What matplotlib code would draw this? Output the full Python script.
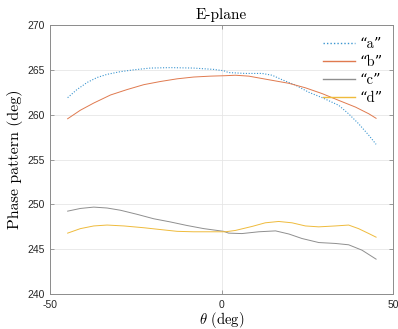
import numpy as np
import matplotlib
matplotlib.use('Agg')
import matplotlib.pyplot as plt

# data
theta_a = [-44.9, -42.2, -39.2, -36.3, -33.4, -29.5, -25.7, -20.8, -15.0, -8.2, -2.3, 0.6,
           2.0, 6.9, 11.8, 14.7, 17.6, 21.5, 25.4, 29.3, 34.1, 37.0, 39.9, 42.9, 45.0]
phase_a = [261.9, 262.8, 263.6, 264.15, 264.5, 264.8, 265.0, 265.2, 265.25, 265.2, 265.05, 264.9,
           264.7, 264.6, 264.6, 264.4, 263.9, 263.3, 262.5, 261.9, 261.05, 260.1, 259.0, 257.7, 256.7]

theta_b = [-44.9, -41.2, -37.3, -32.4, -27.6, -22.7, -17.9, -13.0, -8.2, -3.3, 1.1,
           4.0, 7.9, 13.7, 19.6, 24.4, 29.3, 34.1, 39.0, 42.9, 45.0]
phase_b = [259.55, 260.5, 261.3, 262.2, 262.8, 263.35, 263.7, 264.0, 264.2, 264.3, 264.35,
           264.4, 264.3, 263.9, 263.5, 263.0, 262.35, 261.6, 260.85, 260.1, 259.6]

theta_c = [-44.9, -41.2, -37.3, -33.4, -29.5, -24.7, -19.8, -15.0, -10.1, -5.2, 0.6,
           2.0, 5.9, 10.8, 15.7, 19.6, 23.4, 28.3, 33.1, 37.0, 40.9, 45.0]
phase_c = [249.25, 249.55, 249.7, 249.6, 249.35, 248.9, 248.4, 248.05, 247.65, 247.3, 247.0,
           246.8, 246.75, 246.95, 247.05, 246.7, 246.2, 245.75, 245.65, 245.5, 244.9, 243.9]

theta_d = [-44.9, -41.2, -37.3, -33.4, -28.5, -22.7, -17.9, -13.0, -8.2, -3.3, 1.1,
           4.0, 8.9, 12.7, 16.6, 20.5, 24.4, 28.3, 33.1, 37.0, 39.9, 42.9, 45.0]
phase_d = [246.8, 247.3, 247.6, 247.7, 247.6, 247.4, 247.2, 247.0, 246.95, 246.95, 246.95,
           247.1, 247.55, 247.95, 248.1, 247.95, 247.6, 247.5, 247.6, 247.7, 247.3, 246.75, 246.35]

labels = ['\u201ca\u201d', '\u201cb\u201d', '\u201cc\u201d', '\u201cd\u201d']
colors = ['#3a95d0', '#e07a4f', '#8f8f8f', '#efbb3c']

plt.rcParams['mathtext.fontset'] = 'cm'
plt.rcParams['axes.unicode_minus'] = False
serif = ['cmr10', 'DejaVu Serif']

fig = plt.figure(figsize=(3.98, 3.29), dpi=100)
ax = fig.add_axes([0.126, 0.106, 0.862, 0.818])

ax.plot(theta_a, phase_a, linestyle=(0, (1, 1.5)), color=colors[0], lw=0.8, label=labels[0])
ax.plot(theta_b, phase_b, '-', color=colors[1], lw=0.7, label=labels[1])
ax.plot(theta_c, phase_c, '-', color=colors[2], lw=0.7, label=labels[2])
ax.plot(theta_d, phase_d, '-', color=colors[3], lw=0.7, label=labels[3])

ax.set_xlim(-50, 50)
ax.set_ylim(240, 270)
ax.set_xticks([-50, 0, 50])
ax.set_yticks(np.arange(240, 271, 5))
ax.grid(True, color='#e6e6e6', lw=0.6)
ax.set_axisbelow(True)

for s in ax.spines.values():
    s.set_color('#8c8c8c')
    s.set_linewidth(0.7)
ax.tick_params(direction='in', length=3, width=0.6, color='#8c8c8c',
               labelsize=7.5, labelcolor='#262626', top=True, right=True)
ax.tick_params(axis='x', pad=4)
ax.tick_params(axis='y', pad=4)
for lab in ax.get_xticklabels() + ax.get_yticklabels():
    lab.set_fontfamily('Liberation Sans')

ax.set_title('E-plane', fontfamily=serif, fontsize=11, pad=4)
ax.set_xlabel(r'$\theta$ (deg)', fontfamily=serif, fontsize=10.5, labelpad=0)
ax.set_ylabel('Phase pattern (deg)', fontfamily=serif, fontsize=11.5, labelpad=3)

leg = ax.legend(loc='upper left', frameon=False, prop={'family': serif, 'size': 10.5},
                handlelength=2.2, handletextpad=0.3, labelspacing=0.3,
                borderpad=0, borderaxespad=0, bbox_to_anchor=(0.796, 0.955))
for ln in leg.get_lines():
    ln.set_linewidth(1.0)

plt.savefig('out.png', dpi=100)
